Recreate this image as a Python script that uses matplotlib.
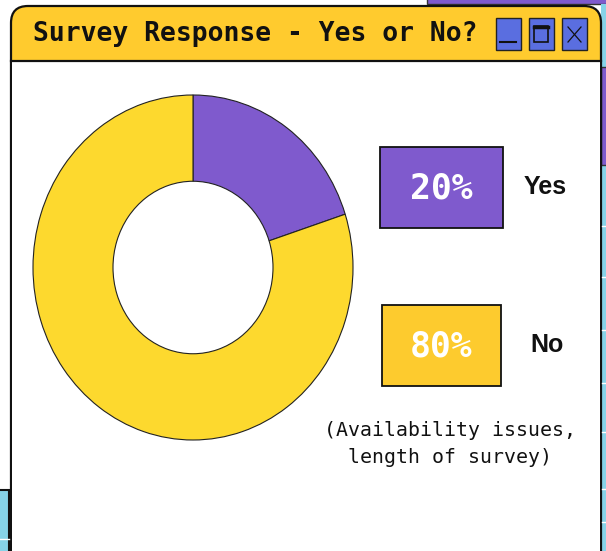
import matplotlib.pyplot as plt
from matplotlib.patches import Rectangle, FancyBboxPatch

title = 'Survey Response - Yes or No?'
labels = ['Yes', 'No']
values = [20, 80]
colors = ['#7f5acd', '#fdd92e']
box_colors = ['#7f5acd', '#fdcb2e']
note = '(Availability issues,\nlength of survey)'

W, H = 606, 551
fig = plt.figure(figsize=(W / 100, H / 100), dpi=100)

# overlay axes in pixel coordinates for the window frame
bg = fig.add_axes([0, 0, 1, 1])
bg.set_xlim(0, W)
bg.set_ylim(H, 0)
bg.axis('off')

# bits of other windows behind
bg.add_patch(Rectangle((427, -10), 200, 14, facecolor='#7f5acd', edgecolor='#333', lw=1))
bg.add_patch(Rectangle((601, 4), 10, 600, facecolor='#86d3e8', edgecolor='none'))
bg.add_patch(Rectangle((601, 67), 10, 98, facecolor='#7f5acd', edgecolor='#333', lw=1))
for yy in [226, 277, 330, 383, 432, 489, 522]:
    bg.plot([602, 606], [yy, yy], color='white', lw=1)
bg.add_patch(Rectangle((-5, 490), 14, 70, facecolor='#86d3e8', edgecolor='#111', lw=1.5))
bg.plot([0, 9], [539, 539], color='white', lw=1)

# window
bg.add_patch(FancyBboxPatch((11, 6), 590, 620, boxstyle='round,pad=0,rounding_size=17',
                            facecolor='#ffcb2e', edgecolor='#111', lw=1.6))
bg.add_patch(Rectangle((12, 61), 588, 600, facecolor='white', edgecolor='none'))
bg.plot([11, 601], [60.5, 60.5], color='#111', lw=1.6)

bg.text(33, 34, title, fontsize=19, fontweight='bold', family='DejaVu Sans Mono',
        ha='left', va='center', color='#111')

# title bar buttons
for bx in [495.5, 529, 562]:
    bg.add_patch(Rectangle((bx, 17.5), 25, 32.5, facecolor='#5a6ee0', edgecolor='#222', lw=1))
bg.plot([500, 516], [42, 42], color='#111', lw=1.5)
bg.add_patch(Rectangle((534, 26), 14, 16, facecolor='none', edgecolor='#111', lw=1.2))
bg.plot([534, 548], [27, 27], color='#111', lw=2.5)
bg.plot([568, 581], [27, 42], color='#111', lw=0.9)
bg.plot([568, 581], [42, 27], color='#111', lw=0.9)

# donut (slightly stretched vertically, as in the original)
cx, cy, rx, ry = 193, 267.5, 160, 172.5
hw, hh = rx * 1.05, ry * 1.05
ax = fig.add_axes([(cx - hw) / W, (H - cy - hh) / H, 2 * hw / W, 2 * hh / H])
ax.pie(values, colors=colors, startangle=90, counterclock=False,
       wedgeprops=dict(width=0.5, edgecolor='#222', linewidth=0.8))
ax.set_aspect('auto')
ax.set_xlim(-1.05, 1.05)
ax.set_ylim(-1.05, 1.05)
ax.axis('off')

# legend boxes with percentages
boxes = [(380, 147, 123, 81), (382, 305, 119, 81)]
label_x = [545, 547]
for (x0, y0, bw, bh), val, lab, c, lx in zip(boxes, values, labels, box_colors, label_x):
    bg.add_patch(Rectangle((x0, y0), bw, bh, facecolor=c, edgecolor='#111', lw=1.3))
    bg.text(x0 + bw / 2, y0 + bh / 2 + 1, f'{val}%', fontsize=25, fontweight='bold',
            family='DejaVu Sans Mono', color='white', ha='center', va='center')
    bg.text(lx, y0 + bh / 2, lab, fontsize=18, fontweight='bold', family='Liberation Sans',
            color='#111', ha='center', va='center')

bg.text(450, 444, note, fontsize=14.3, family='DejaVu Sans Mono', color='#111',
        ha='center', va='center', linespacing=1.5)

fig.savefig('out.png', dpi=100)
